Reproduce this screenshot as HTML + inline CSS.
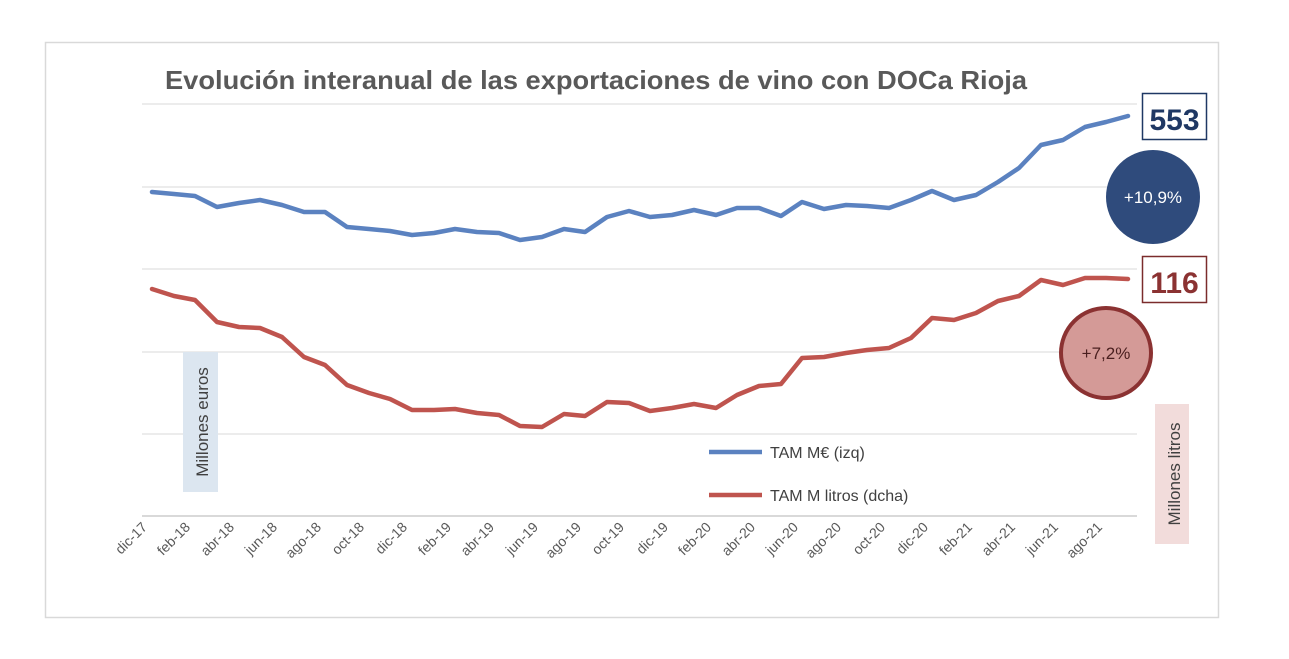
<!DOCTYPE html>
<html><head><meta charset="utf-8"><style>
body{margin:0;background:#fff;}
svg{display:block;font-family:"Liberation Sans",sans-serif;}
</style></head><body>
<svg width="1289" height="659" viewBox="0 0 1289 659">
<rect x="45.5" y="42.5" width="1173" height="575" fill="#fff" stroke="#d9d9d9" stroke-width="1.5"/>
<text x="165" y="89" font-size="26" font-weight="bold" fill="#595959" textLength="862" lengthAdjust="spacingAndGlyphs">Evolución interanual de las exportaciones de vino con DOCa Rioja</text>
<g stroke="#e6e6e6" stroke-width="1.5">
<line x1="142" y1="104" x2="1137" y2="104"/><line x1="142" y1="187" x2="1137" y2="187"/>
<line x1="142" y1="269" x2="1137" y2="269"/><line x1="142" y1="352" x2="1137" y2="352"/>
<line x1="142" y1="434" x2="1137" y2="434"/></g>
<line x1="142" y1="516" x2="1137" y2="516" stroke="#d9d9d9" stroke-width="2"/>
<polyline fill="none" stroke="#5b82c0" stroke-width="4.5" stroke-linejoin="round" stroke-linecap="round" points="152,192 174,194 195,196 217,207 239,203 260,200 282,205 304,212 325,212 347,227 369,229 390,231 412,235 434,233 455,229 477,232 499,233 520,240 542,237 564,229 585,232 607,217 629,211 650,217 672,215 694,210 716,215 737,208 759,208 781,216 802,202 824,209 846,205 867,206 889,208 911,200 932,191 954,200 976,195 998,182 1019,168 1041,145 1063,140 1085,127 1106,122 1128,116"/>
<polyline fill="none" stroke="#bf544e" stroke-width="4.5" stroke-linejoin="round" stroke-linecap="round" points="152,289 174,296 195,300 217,322 239,327 260,328 282,337 304,357 325,365 347,385 369,393 390,399 412,410 434,410 455,409 477,413 499,415 520,426 542,427 564,414 585,416 607,402 629,403 650,411 672,408 694,404 716,408 737,395 759,386 781,384 802,358 824,357 846,353 867,350 889,348 911,338 932,318 954,320 976,313 998,301 1019,296 1041,280 1063,285 1085,278 1106,278 1128,279"/>
<g font-size="14" fill="#595959" text-anchor="end">
<text transform="translate(148,528) rotate(-45)">dic-17</text>
<text transform="translate(191,528) rotate(-45)">feb-18</text>
<text transform="translate(235,528) rotate(-45)">abr-18</text>
<text transform="translate(278,528) rotate(-45)">jun-18</text>
<text transform="translate(322,528) rotate(-45)">ago-18</text>
<text transform="translate(365,528) rotate(-45)">oct-18</text>
<text transform="translate(408,528) rotate(-45)">dic-18</text>
<text transform="translate(452,528) rotate(-45)">feb-19</text>
<text transform="translate(495,528) rotate(-45)">abr-19</text>
<text transform="translate(539,528) rotate(-45)">jun-19</text>
<text transform="translate(582,528) rotate(-45)">ago-19</text>
<text transform="translate(625,528) rotate(-45)">oct-19</text>
<text transform="translate(669,528) rotate(-45)">dic-19</text>
<text transform="translate(712,528) rotate(-45)">feb-20</text>
<text transform="translate(756,528) rotate(-45)">abr-20</text>
<text transform="translate(799,528) rotate(-45)">jun-20</text>
<text transform="translate(842,528) rotate(-45)">ago-20</text>
<text transform="translate(886,528) rotate(-45)">oct-20</text>
<text transform="translate(929,528) rotate(-45)">dic-20</text>
<text transform="translate(973,528) rotate(-45)">feb-21</text>
<text transform="translate(1016,528) rotate(-45)">abr-21</text>
<text transform="translate(1059,528) rotate(-45)">jun-21</text>
<text transform="translate(1103,528) rotate(-45)">ago-21</text>
</g>
<line x1="709" y1="452" x2="762" y2="452" stroke="#5b82c0" stroke-width="4.5"/>
<text x="770" y="458" font-size="16" fill="#404040">TAM M€ (izq)</text>
<line x1="709" y1="495" x2="762" y2="495" stroke="#bf544e" stroke-width="4.5"/>
<text x="770" y="501" font-size="16" fill="#404040">TAM M litros (dcha)</text>
<rect x="183" y="352" width="35" height="140" fill="#dce6f0"/>
<text transform="translate(208,422) rotate(-90)" font-size="17" fill="#404040" text-anchor="middle">Millones euros</text>
<rect x="1155" y="404" width="34" height="140" fill="#f2dcdb"/>
<text transform="translate(1180,474) rotate(-90)" font-size="17" fill="#404040" text-anchor="middle">Millones litros</text>
<rect x="1142.5" y="93.5" width="64" height="46" fill="#fff" stroke="#1f3864" stroke-width="1.5"/>
<text x="1174.5" y="130" font-size="30" font-weight="bold" fill="#1f3864" text-anchor="middle">553</text>
<circle cx="1153" cy="197" r="47" fill="#2f4b7c"/>
<text x="1153" y="203" font-size="17" fill="#fff" text-anchor="middle">+10,9%</text>
<rect x="1142.5" y="256.5" width="64" height="46" fill="#fff" stroke="#7b2c2c" stroke-width="1.5"/>
<text x="1174.5" y="293" font-size="30" font-weight="bold" fill="#8b3232" text-anchor="middle">116</text>
<circle cx="1106" cy="353" r="45" fill="#d49a97" stroke="#8b3232" stroke-width="4"/>
<text x="1106" y="359" font-size="17" fill="#4a1f1f" text-anchor="middle">+7,2%</text>
</svg>
</body></html>
